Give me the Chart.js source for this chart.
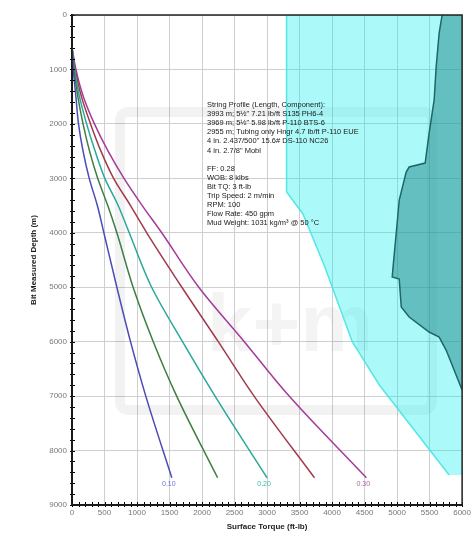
<!DOCTYPE html>
<html>
<head>
<meta charset="utf-8">
<script src="https://cdn.jsdelivr.net/npm/chart.js@4"></script>
<style>
  html, body { margin: 0; padding: 0; background: #fff; }
</style>
</head>
<body>
<canvas id="torqueChart" width="474" height="535"></canvas>
<script>
// Depth stations (m) for the friction factor curves
const depths = [600, 1000, 1500, 2000, 2500, 3000, 3500, 4000, 5000, 6000, 7000, 8500];
// Surface torque (ft-lb) for each friction factor
const ff010 = [0, 20, 60, 100, 170, 265, 390, 490, 690, 900, 1135, 1535];
const ff015 = [0, 30, 90, 170, 270, 395, 550, 690, 940, 1250, 1610, 2240];
const ff020 = [0, 40, 115, 225, 355, 505, 710, 880, 1225, 1700, 2200, 3000];
const ff025 = [0, 50, 145, 285, 445, 640, 900, 1150, 1690, 2250, 2800, 3729];
const ff030 = [0, 60, 175, 345, 555, 800, 1080, 1380, 1950, 2650, 3340, 4527];
const ffNames = ['0.10', '0.15', '0.20', '0.25', '0.30'];

// Make-up torque limit (light cyan) left edge
const limitTorque = [3300, 3300, 3550, 3880, 4310, 4730, 5800];
const limitDepth = [0, 3250, 3650, 4600, 6000, 6800, 8450];

// Yield torque region (dark teal) left edge
const yieldTorque = [5693, 5647, 5601, 5570, 5493, 5432, 5186, 5140, 5033, 4987, 4941, 4925, 5033, 5064, 5186, 5493, 5647, 5754, 6000];
const yieldDepth = [0, 331, 955, 1561, 2168, 2719, 2792, 2884, 3399, 4005, 4593, 4813, 4850, 5364, 5548, 5823, 5915, 6154, 6889];

const xTicks = { min: 0, max: 6000, step: 500 };
const yTicks = { min: 0, max: 9000, step: 1000 };

const infoLines = [
  'String Profile (Length, Component):',
  '3993 m; 5\u00bd" 7.21 lb/ft S135 PH6-4',
  '3969 m; 5\u00bd" 5.98 lb/ft P-110 BTS-6',
  '2955 m; Tubing only Hngr 4.7 lb/ft P-110 EUE',
  '4 in. 2.437/500" 15.6# DS-110 NC26',
  '4 in. 2.7/8" Mobl',
  '',
  'FF: 0.28',
  'WOB: 8 klbs',
  'Bit TQ: 3 ft-lb',
  'Trip Speed: 2 m/min',
  'RPM: 100',
  'Flow Rate: 450 gpm',
  'Mud Weight: 1031 kg/m\u00b3 @ 50 \u00b0C'
];

const curveColors = ['#4b4bb8', '#3d7f42', '#2aa89b', '#a23a4c', '#a63a9b'];
const labelColors = ['#6f6fd0', null, '#3fb3a6', null, '#b465a8'];

function toPoints(xs, ys) {
  return xs.map((v, i) => ({ x: v, y: ys[i] }));
}

const curves = [ff010, ff015, ff020, ff025, ff030].map((arr, i) => ({
  label: 'FF ' + ffNames[i],
  data: toPoints(arr, depths),
  borderColor: curveColors[i],
  borderWidth: 1.5,
  pointRadius: 0,
  fill: false,
  cubicInterpolationMode: 'monotone',
  order: 1
}));

// Watermark, curve labels, info box, frame and minor ticks
const extras = {
  id: 'extras',
  beforeDatasetsDraw(chart) {
    const ctx = chart.ctx;
    ctx.save();
    ctx.strokeStyle = 'rgba(0,0,0,0.05)';
    ctx.lineWidth = 10;
    ctx.beginPath();
    ctx.roundRect(120, 112, 312, 298, 8);
    ctx.stroke();
    ctx.fillStyle = 'rgba(0,0,0,0.045)';
    ctx.font = 'bold 82px "Liberation Sans", Arial, sans-serif';
    ctx.textAlign = 'center';
    ctx.textBaseline = 'middle';
    ctx.fillText('k+m', 290, 328);
    ctx.restore();
  },
  afterDatasetsDraw(chart) {
    const ctx = chart.ctx;
    const xs = chart.scales.x;
    const ys = chart.scales.y;
    const area = chart.chartArea;
    ctx.save();

    // friction factor labels at the curve ends
    ctx.font = '7px "Liberation Sans", Arial, sans-serif';
    ctx.textAlign = 'center';
    ctx.textBaseline = 'middle';
    [ff010, ff015, ff020, ff025, ff030].forEach((arr, i) => {
      if (!labelColors[i]) return;
      const last = arr.length - 1;
      ctx.fillStyle = labelColors[i];
      ctx.fillText(ffNames[i], xs.getPixelForValue(arr[last]) - 3, ys.getPixelForValue(depths[last]) + 6);
    });

    // info text box
    ctx.fillStyle = '#1a1a1a';
    ctx.font = '7.5px "Liberation Sans", Arial, sans-serif';
    ctx.textAlign = 'left';
    infoLines.forEach((t, i) => {
      ctx.fillText(t, 207, 105 + i * 9.1);
    });

    // minor ticks on the axes
    ctx.strokeStyle = '#000';
    ctx.lineWidth = 1;
    for (let v = 0; v <= yTicks.max; v += 200) {
      const py = Math.round(ys.getPixelForValue(v)) + 0.5;
      ctx.beginPath();
      ctx.moveTo(area.left - 2, py);
      ctx.lineTo(area.left + 3, py);
      ctx.stroke();
    }
    for (let v = 0; v <= xTicks.max; v += 100) {
      const px = Math.round(xs.getPixelForValue(v)) + 0.5;
      ctx.beginPath();
      ctx.moveTo(px, area.bottom + 2);
      ctx.lineTo(px, area.bottom - 3);
      ctx.stroke();
    }

    // plot frame
    ctx.strokeStyle = '#222';
    ctx.lineWidth = 1.5;
    ctx.strokeRect(area.left, area.top, area.right - area.left, area.bottom - area.top);
    ctx.restore();
  }
};

new Chart(document.getElementById('torqueChart').getContext('2d'), {
  type: 'line',
  data: {
    datasets: [
      ...curves,
      {
        label: 'Yield',
        data: toPoints(yieldTorque, yieldDepth),
        borderColor: '#1f6666',
        borderWidth: 1.5,
        backgroundColor: 'rgba(30,135,135,0.5)',
        fill: { value: xTicks.max },
        pointRadius: 0,
        tension: 0,
        order: 2
      },
      {
        label: 'Make-up limit',
        data: toPoints(limitTorque, limitDepth),
        borderColor: 'rgba(70,228,228,0.9)',
        borderWidth: 1.5,
        backgroundColor: 'rgba(0,238,238,0.33)',
        fill: { value: xTicks.max },
        pointRadius: 0,
        tension: 0,
        order: 3
      }
    ]
  },
  options: {
    indexAxis: 'y',
    responsive: false,
    devicePixelRatio: 1,
    animation: false,
    layout: { padding: { left: 25, top: 15, right: 11, bottom: 0 } },
    plugins: {
      legend: { display: false },
      tooltip: { enabled: false }
    },
    scales: {
      x: {
        type: 'linear',
        position: 'bottom',
        min: xTicks.min,
        max: xTicks.max,
        afterFit: (s) => { s.height = 30; },
        ticks: {
          stepSize: xTicks.step,
          color: '#777',
          padding: 3,
          callback: (v) => String(v),
          font: { size: 8, family: '"Liberation Sans", Arial, sans-serif' }
        },
        grid: { color: '#cfcfcf', drawTicks: false },
        border: { display: true, color: '#000', width: 2 },
        title: {
          display: true,
          text: 'Surface Torque (ft-lb)',
          color: '#222',
          padding: { top: 0, bottom: 3 },
          font: { size: 8, weight: 'bold', family: '"Liberation Sans", Arial, sans-serif' }
        }
      },
      y: {
        type: 'linear',
        position: 'left',
        reverse: true,
        min: yTicks.min,
        max: yTicks.max,
        afterFit: (s) => { s.width = 47; },
        ticks: {
          stepSize: yTicks.step,
          color: '#777',
          padding: 5,
          callback: (v) => String(v),
          font: { size: 8, family: '"Liberation Sans", Arial, sans-serif' }
        },
        grid: { color: '#cfcfcf', drawTicks: false },
        border: { display: true, color: '#000', width: 2 },
        title: {
          display: true,
          text: 'Bit Measured Depth (m)',
          color: '#222',
          padding: { top: 4, bottom: 0 },
          font: { size: 8, weight: 'bold', family: '"Liberation Sans", Arial, sans-serif' }
        }
      }
    }
  },
  plugins: [extras]
});
</script>
</body>
</html>
